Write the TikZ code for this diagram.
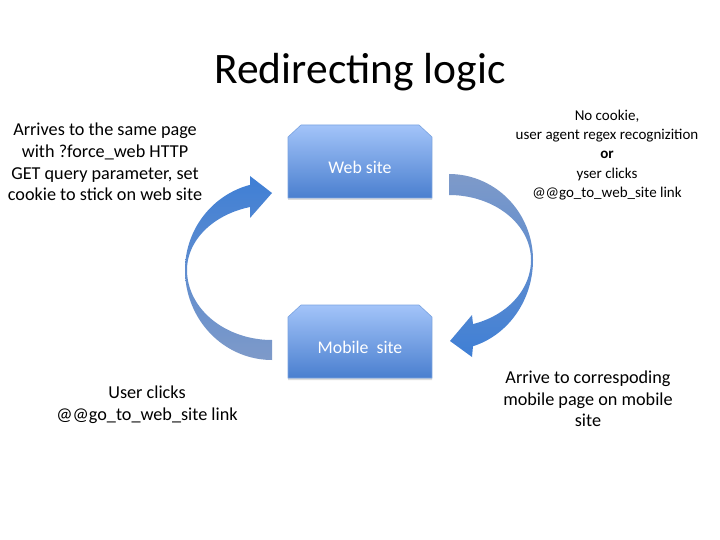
\documentclass[tikz,border=0pt]{standalone}
\usepackage{fontspec}
\setmainfont{Carlito}
\definecolor{boxtop}{HTML}{A3C4F9}
\definecolor{boxbot}{HTML}{4A7FCF}
\definecolor{boxedge}{HTML}{7AA3E0}
\definecolor{arrgrey}{HTML}{7E9AC9}
\definecolor{arrmid}{HTML}{5B93DE}
\definecolor{arrblue}{HTML}{3F7FD5}
\begin{document}
\begin{tikzpicture}[x=1pt,y=-1pt,
  lbl/.style={align=center, text=black, inner sep=0pt, font=\fontsize{18.2}{21.7}\selectfont},
  smalllbl/.style={align=center, text=black, inner sep=0pt, font=\fontsize{15}{19.3}\selectfont},
  site/.style={top color=boxtop, bottom color=boxbot, draw=boxedge, line width=0.6pt},
  siteshadow/.style={fill=black!22, draw=none, opacity=0.6},
  sitetext/.style={text=white, inner sep=0pt, font=\fontsize{17.8}{20}\selectfont},
  title/.style={text=black, inner sep=0pt, font=\fontsize{43.5}{50}\selectfont}
]
\useasboundingbox[fill=white] (0,0) rectangle (720,540);

% title
\node[title] (title) at (360,72) {Redirecting logic};

% site boxes with snipped top corners
\foreach \y in {125,305}{
  \fill[siteshadow] (288,\y+75) -- (288,\y+14) -- (301,\y+2) -- (419,\y+2) -- (432,\y+14) -- (432,\y+75) -- cycle;
  \path[site] (288,\y+73) -- (288,\y+12) -- (301,\y) -- (419,\y) -- (432,\y+12) -- (432,\y+73) -- cycle;
}
\node[sitetext] (web) at (360,167) {Web site};
\node[sitetext] (mobile) at (360,347) {Mobile\ \ site};

% curved block arrow: web site -> mobile site
\shade[top color=arrgrey, middle color=arrgrey!60!arrmid, bottom color=arrblue]
  (449,174)
  -- plot[domain=-90:0, samples=40] ({449+84*cos(\x)},{260+86*sin(\x)})
  -- plot[domain=0:73.4, samples=40] ({449+84*cos(\x)},{260+90*sin(\x)})
  -- (472,357) -- (450,341) -- (472,315) -- (473,324)
  -- plot[domain=73:0, samples=40] ({449+82*cos(\x)},{260+67*sin(\x)})
  -- plot[domain=0:-90, samples=40] ({449+82*cos(\x)},{260+65*sin(\x)})
  -- cycle;

% curved block arrow: mobile site -> web site
\shade[top color=arrblue, middle color=arrmid, bottom color=arrgrey]
  (272,360)
  -- plot[domain=90:180, samples=40] ({272+87*cos(\x)},{270+90*sin(\x)})
  -- plot[domain=180:255.35, samples=40] ({272+87*cos(\x)},{270+88*sin(\x)})
  -- (250,176) -- (272,193) -- (250,218) -- (250,207)
  -- plot[domain=255:180, samples=40] ({272+85*cos(\x)},{270+65.2*sin(\x)})
  -- plot[domain=180:90, samples=40] ({272+85*cos(\x)},{270+70*sin(\x)})
  -- cycle;

% labels
\node[lbl] (forceweb) at (105,162) {Arrives to the same page\\with ?force\_web HTTP\\GET query parameter, set\\cookie to stick on web site};
\node[smalllbl] (detect) at (607,155) {No cookie,\\user agent regex recognizition\\\textbf{or}\\yser clicks\\@@go\_to\_web\_site link};
\node[lbl] (userclick) at (147,405) {User clicks\\@@go\_to\_web\_site link};
\node[lbl] (arrive) at (588,399) {Arrive to correspoding\\mobile page on mobile\\site};
\end{tikzpicture}
\end{document}
